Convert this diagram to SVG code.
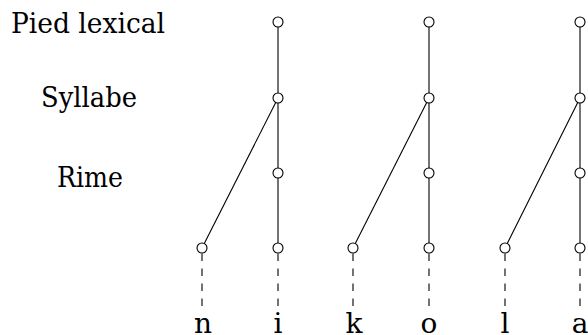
<svg xmlns="http://www.w3.org/2000/svg" width="588" height="335" viewBox="0 0 588 335">
<style>
.lbl{font-family:'DejaVu Serif',serif;font-size:28px;fill:#000}
.seg{font-family:'DejaVu Serif',serif;font-size:28px;fill:#000;text-anchor:middle}
.edge{stroke:#000;stroke-width:1.1;fill:none}
.dash{stroke:#000;stroke-width:1.1;stroke-dasharray:7.5 7.5;fill:none}
.node{fill:#fff;stroke:#000;stroke-width:1.1}
</style>
<rect width="588" height="335" fill="#fff"/>
<g id="labels">
<text class="lbl" x="11" y="33" textLength="154" lengthAdjust="spacingAndGlyphs">Pied lexical</text>
<text class="lbl" x="41" y="107" textLength="96" lengthAdjust="spacingAndGlyphs">Syllabe</text>
<text class="lbl" x="57" y="187" textLength="66" lengthAdjust="spacingAndGlyphs">Rime</text>
</g>
<g id="connectors">
<line class="edge" x1="278" y1="22" x2="278" y2="248"/>
<line class="edge" x1="278" y1="98" x2="202" y2="248"/>
<line class="edge" x1="429" y1="22" x2="429" y2="248"/>
<line class="edge" x1="429" y1="98" x2="353" y2="248"/>
<line class="edge" x1="580" y1="22" x2="580" y2="248"/>
<line class="edge" x1="580" y1="98" x2="505" y2="248"/>
<line class="dash" x1="202" y1="253.5" x2="202" y2="308"/>
<line class="dash" x1="278" y1="253.5" x2="278" y2="308"/>
<line class="dash" x1="353" y1="253.5" x2="353" y2="308"/>
<line class="dash" x1="429" y1="253.5" x2="429" y2="308"/>
<line class="dash" x1="505" y1="253.5" x2="505" y2="308"/>
<line class="dash" x1="580" y1="253.5" x2="580" y2="308"/>
</g>
<g id="col1">
<circle id="n1-pied" class="node" cx="278" cy="22" r="5"/>
<circle id="n1-syl" class="node" cx="278" cy="98" r="5"/>
<circle id="n1-rime" class="node" cx="278" cy="173" r="5"/>
<circle id="n1-onset" class="node" cx="202" cy="248" r="5"/>
<circle id="n1-nuc" class="node" cx="278" cy="248" r="5"/>
</g>
<g id="col2">
<circle id="n2-pied" class="node" cx="429" cy="22" r="5"/>
<circle id="n2-syl" class="node" cx="429" cy="98" r="5"/>
<circle id="n2-rime" class="node" cx="429" cy="173" r="5"/>
<circle id="n2-onset" class="node" cx="353" cy="248" r="5"/>
<circle id="n2-nuc" class="node" cx="429" cy="248" r="5"/>
</g>
<g id="col3">
<circle id="n3-pied" class="node" cx="580" cy="22" r="5"/>
<circle id="n3-syl" class="node" cx="580" cy="98" r="5"/>
<circle id="n3-rime" class="node" cx="580" cy="173" r="5"/>
<circle id="n3-onset" class="node" cx="505" cy="248" r="5"/>
<circle id="n3-nuc" class="node" cx="580" cy="248" r="5"/>
</g>
<g id="segments">
<text class="seg" x="203" y="333">n</text>
<text class="seg" x="278" y="333">i</text>
<text class="seg" x="354" y="333">k</text>
<text class="seg" x="429" y="333">o</text>
<text class="seg" x="505" y="333">l</text>
<text class="seg" x="580" y="333">a</text>
</g>
</svg>
